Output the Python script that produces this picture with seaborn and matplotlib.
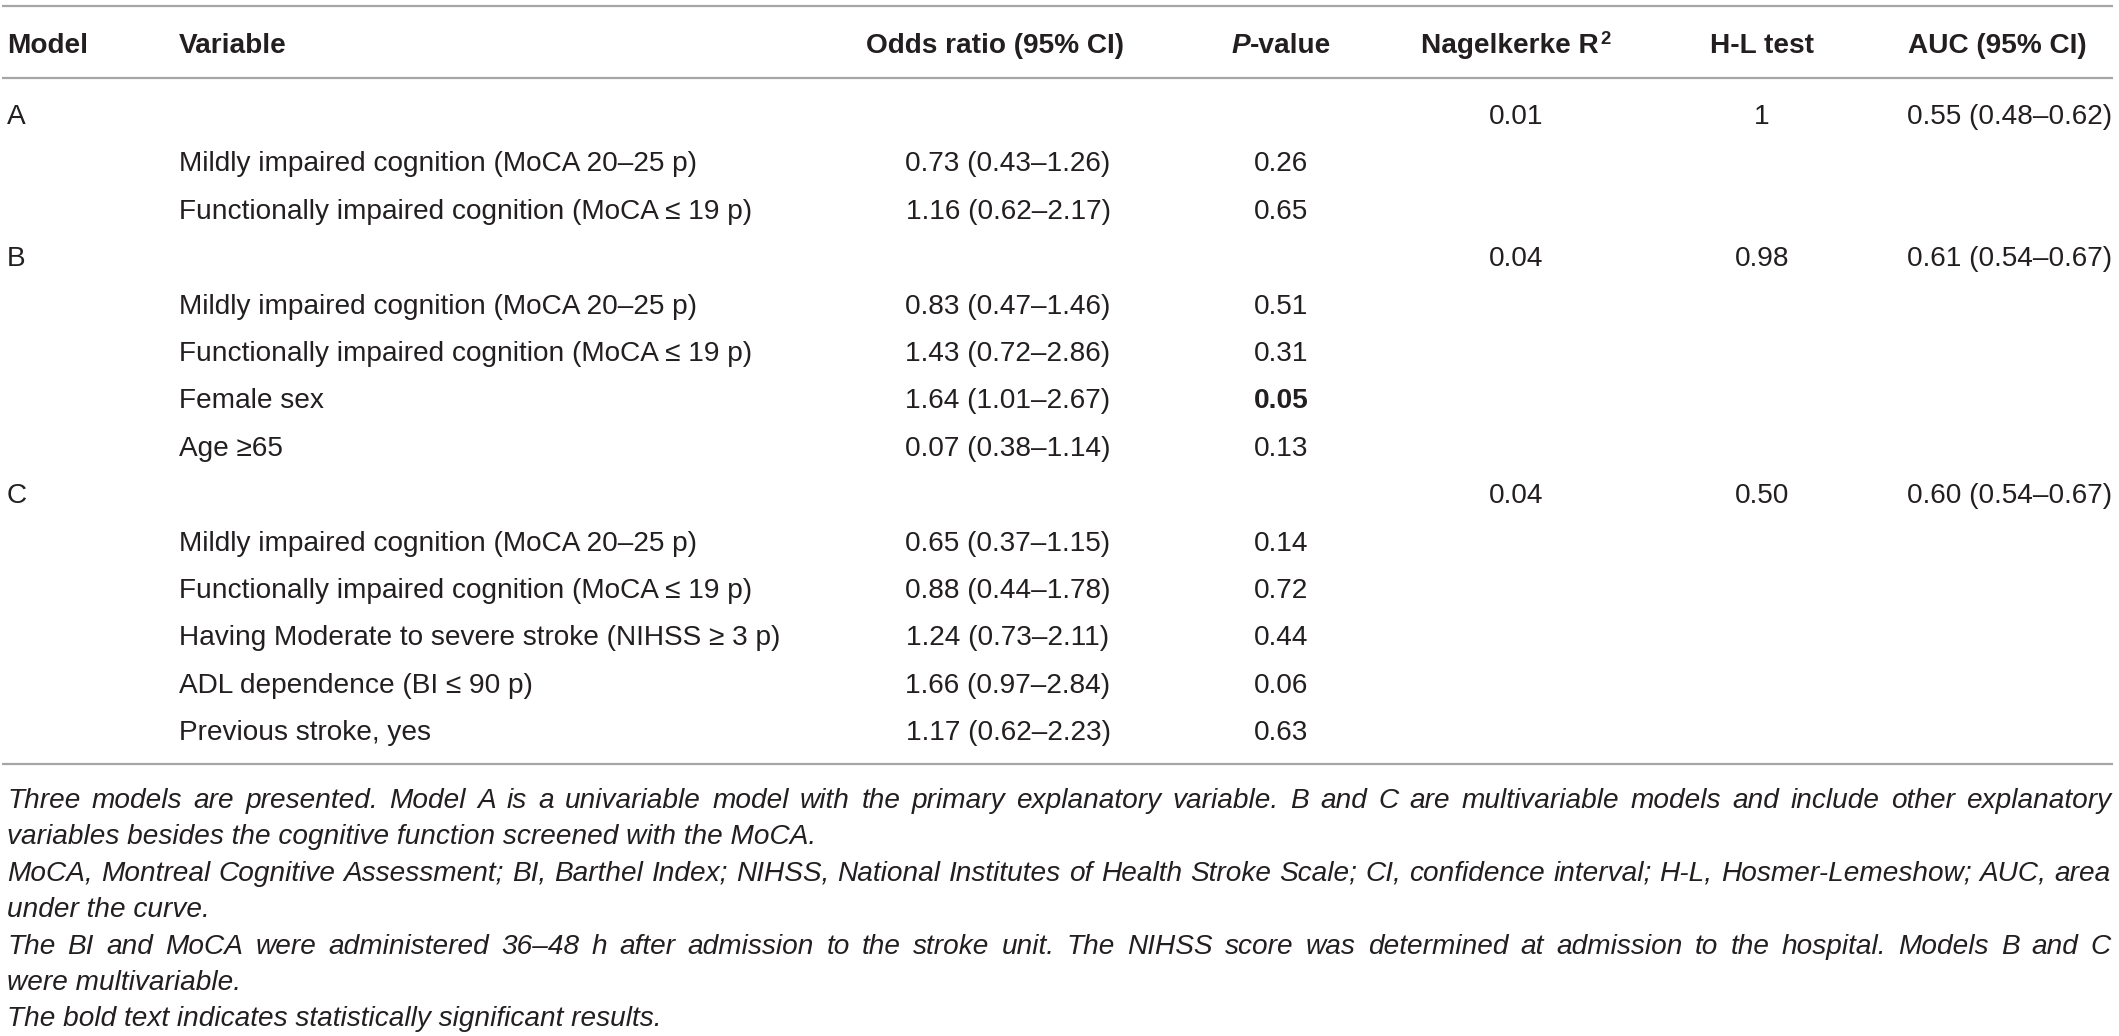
import matplotlib
matplotlib.use("Agg")
import matplotlib.pyplot as plt
import seaborn as sns
import pandas as pd

sns.set_theme(style="white")
plt.rcParams['font.family'] = ['Liberation Sans', 'DejaVu Sans']

# ---- table data ----
model_names = ["A", "B", "C"]
nagelkerke_r2 = ["0.01", "0.04", "0.04"]
hl_test = ["1", "0.98", "0.50"]
auc_ci = ["0.55 (0.48–0.62)", "0.61 (0.54–0.67)", "0.60 (0.54–0.67)"]

var_model = ["A", "A", "B", "B", "B", "B", "C", "C", "C", "C", "C"]
variables = [
    "Mildly impaired cognition (MoCA 20–25 p)",
    "Functionally impaired cognition (MoCA ≤ 19 p)",
    "Mildly impaired cognition (MoCA 20–25 p)",
    "Functionally impaired cognition (MoCA ≤ 19 p)",
    "Female sex",
    "Age ≥65",
    "Mildly impaired cognition (MoCA 20–25 p)",
    "Functionally impaired cognition (MoCA ≤ 19 p)",
    "Having Moderate to severe stroke (NIHSS ≥ 3 p)",
    "ADL dependence (BI ≤ 90 p)",
    "Previous stroke, yes",
]
odds_ratio = ["0.73 (0.43–1.26)", "1.16 (0.62–2.17)",
              "0.83 (0.47–1.46)", "1.43 (0.72–2.86)", "1.64 (1.01–2.67)", "0.07 (0.38–1.14)",
              "0.65 (0.37–1.15)", "0.88 (0.44–1.78)", "1.24 (0.73–2.11)", "1.66 (0.97–2.84)",
              "1.17 (0.62–2.23)"]
p_value = ["0.26", "0.65", "0.51", "0.31", "0.05", "0.13", "0.14", "0.72", "0.44", "0.06", "0.63"]
significant = [False, False, False, False, True, False, False, False, False, False, False]

footnotes = [
    "Three models are presented. Model A is a univariable model with the primary explanatory variable. B and C are multivariable models and include other explanatory",
    "variables besides the cognitive function screened with the MoCA.",
    "MoCA, Montreal Cognitive Assessment; BI, Barthel Index; NIHSS, National Institutes of Health Stroke Scale; CI, confidence interval; H-L, Hosmer-Lemeshow; AUC, area",
    "under the curve.",
    "The BI and MoCA were administered 36–48 h after admission to the stroke unit. The NIHSS score was determined at admission to the hospital. Models B and C",
    "were multivariable.",
    "The bold text indicates statistically significant results.",
]
footnote_justified = [True, False, True, False, True, False, False]

# build the row list: model row followed by its variables
rows = []
for m, r2, hl, auc in zip(model_names, nagelkerke_r2, hl_test, auc_ci):
    rows.append(dict(model=m, variable="", odds="", p="", bold=False, r2=r2, hl=hl, auc=auc))
    for vm, v, o, p, s in zip(var_model, variables, odds_ratio, p_value, significant):
        if vm == m:
            rows.append(dict(model="", variable=v, odds=o, p=p, bold=s, r2="", hl="", auc=""))
table = pd.DataFrame(rows)

# ---- layout (pixels) ----
W, H = 2119, 1036
FS = 20.2
TXT = "#231f20"
RULE = "#a6a6a6"
x_model, x_var = 7, 179
c_odds, c_p, c_r2, c_hl, c_auc = 1008, 1281, 1516, 1762, 2010
h_odds, h_auc = 995, 1997
y_head = 53
y_row0, row_h = 124, 47.4
y_foot0, foot_h = 808, 36.4
x_left, x_right = 7, 2111

fig = plt.figure(figsize=(W / 100, H / 100), dpi=100)
ax = fig.add_axes([0, 0, 1, 1])
ax.set_xlim(0, W)
ax.set_ylim(H, 0)
ax.axis("off")
renderer = fig.canvas.get_renderer()


def width_of(s, size=FS, **kw):
    t = ax.text(0, 0, s, fontsize=size, **kw)
    w = t.get_window_extent(renderer).width
    t.remove()
    return w


# rules
ax.hlines([6, 78, 764], 2, 2113, colors=RULE, linewidth=1.6)

# header
hkw = dict(fontweight="bold", color=TXT, va="baseline")
ax.text(x_model, y_head, "Model", ha="left", fontsize=FS, **hkw)
ax.text(x_var, y_head, "Variable", ha="left", fontsize=FS, **hkw)
ax.text(h_odds, y_head, "Odds ratio (95% CI)", ha="center", fontsize=FS, **hkw)

wp = width_of("P", fontweight="bold", style="italic")
wv = width_of("-value", fontweight="bold")
x0 = c_p - (wp + wv) / 2
ax.text(x0, y_head, "P", ha="left", style="italic", fontsize=FS, **hkw)
ax.text(x0 + wp, y_head, "-value", ha="left", fontsize=FS, **hkw)

sup = FS * 0.66
wn = width_of("Nagelkerke R", fontweight="bold")
ws = width_of("2", size=sup, fontweight="bold")
x0 = c_r2 - (wn + ws + 2) / 2
ax.text(x0, y_head, "Nagelkerke R", ha="left", fontsize=FS, **hkw)
ax.text(x0 + wn + 2, y_head - 9, "2", ha="left", fontsize=sup, **hkw)

ax.text(c_hl, y_head, "H-L test", ha="center", fontsize=FS, **hkw)
ax.text(h_auc, y_head, "AUC (95% CI)", ha="center", fontsize=FS, **hkw)

# body
bkw = dict(fontsize=FS, color=TXT, va="baseline")
for i, r in table.iterrows():
    y = y_row0 + i * row_h
    ax.text(x_model, y, r["model"], ha="left", **bkw)
    ax.text(x_var, y, r["variable"], ha="left", **bkw)
    ax.text(c_odds, y, r["odds"], ha="center", **bkw)
    ax.text(c_p, y, r["p"], ha="center", fontweight="bold" if r["bold"] else "normal", **bkw)
    ax.text(c_r2, y, r["r2"], ha="center", **bkw)
    ax.text(c_hl, y, r["hl"], ha="center", **bkw)
    ax.text(c_auc, y, r["auc"], ha="center", **bkw)

# footnotes, justified like the journal layout
fkw = dict(fontsize=FS, color=TXT, va="baseline", style="italic")
for j, (line, just) in enumerate(zip(footnotes, footnote_justified)):
    y = y_foot0 + j * foot_h
    if not just:
        ax.text(x_left, y, line, ha="left", **fkw)
        continue
    words = line.split(" ")
    widths = [width_of(w, style="italic") for w in words]
    gap = (x_right - x_left - sum(widths)) / (len(words) - 1)
    x = x_left
    for w, ww in zip(words, widths):
        ax.text(x, y, w, ha="left", **fkw)
        x += ww + gap

fig.savefig("out.png", dpi=100)
